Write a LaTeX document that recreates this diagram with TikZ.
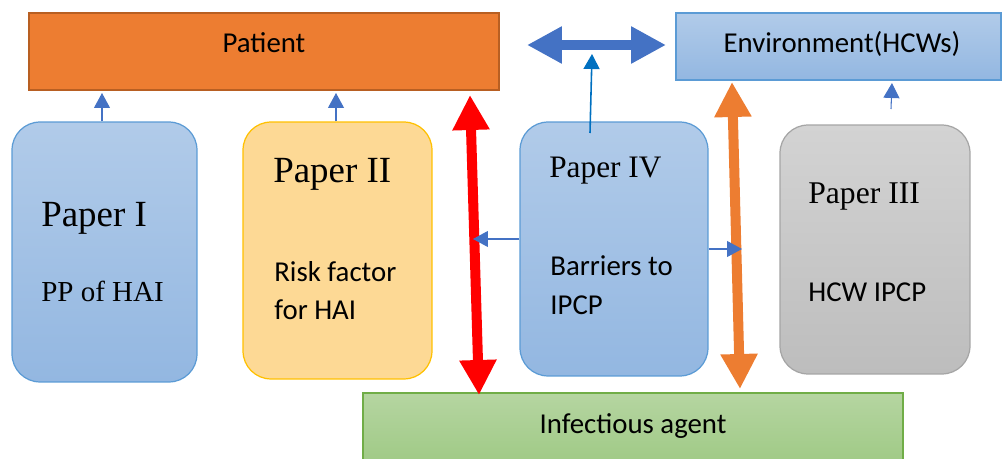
\documentclass[tikz,border=0pt]{standalone}
\usepackage{fontspec}
\setmainfont{Liberation Serif}
\newfontfamily\calib{Carlito}
\usetikzlibrary{arrows.meta}
\definecolor{orF}{HTML}{ED7D31}
\definecolor{orD}{HTML}{B85F22}
\definecolor{bluT}{HTML}{B1CBE9}
\definecolor{bluB}{HTML}{93B7E1}
\definecolor{bluD}{HTML}{5B9BD5}
\definecolor{yelF}{HTML}{FDD995}
\definecolor{yelD}{HTML}{FFC000}
\definecolor{gryT}{HTML}{D3D3D3}
\definecolor{gryB}{HTML}{BDBDBD}
\definecolor{gryD}{HTML}{A5A5A5}
\definecolor{grnT}{HTML}{B5D5A1}
\definecolor{grnB}{HTML}{A0CA86}
\definecolor{grnD}{HTML}{70AD47}
\definecolor{arrB}{HTML}{4472C4}
\definecolor{arrL}{HTML}{0070C0}
\definecolor{arrR}{HTML}{FF0000}
\begin{document}
\begin{tikzpicture}[x=0.02cm,y=-0.02cm,
  box/.style={inner sep=0pt, line width=0.7pt},
  paper/.style={box, rounded corners=0.56cm},
  bluebox/.style={draw=bluD, top color=bluT, bottom color=bluB},
  cal/.style={font=\calib\fontsize{16.4}{20}\selectfont, inner sep=0pt, anchor=base west},
  calc/.style={cal, anchor=base},
  ttl/.style={font=\fontsize{#1}{#1}\selectfont, inner sep=0pt, anchor=base west},
  thinarr/.style={draw=arrB, line width=0.6pt, -{Triangle[length=0.3cm,width=0.32cm]}},
  fat/.style={line width=0.2cm, {Triangle[length=0.7cm,width=0.7cm]}-{Triangle[length=0.7cm,width=0.7cm]}}
]
\useasboundingbox (0,0) rectangle (1002,459);

% top boxes
\node[box, draw=orD, fill=orF, line width=1.2pt, minimum width=9.4cm, minimum height=1.54cm] (patient) at (264,51.5) {};
\node[calc] (patientT) at (264,53) {Patient};
\node[box, bluebox, minimum width=6.5cm, minimum height=1.34cm] (env) at (838.5,46.5) {};
\node[calc] (envT) at (842,53) {Environment(HCWs)};

% bottom box
\node[box, draw=grnD, top color=grnT, bottom color=grnB, minimum width=10.8cm, minimum height=1.38cm] (inf) at (633,427.5) {};
\node[calc] (infT) at (633,434) {Infectious agent};

% paper boxes
\node[paper, bluebox, minimum width=3.7cm, minimum height=5.2cm] (p1) at (104.5,252) {};
\node[ttl=21] (p1T) at (41,227) {Paper I};
\node[ttl=16.5] (p1B) at (41,302) {PP of HAI};

\node[paper, draw=yelD, fill=yelF, minimum width=3.78cm, minimum height=5.14cm] (p2) at (337.5,250.5) {};
\node[ttl=21] (p2T) at (273,183) {Paper II};
\node[cal] (p2B1) at (274,282) {Risk factor};
\node[cal] (p2B2) at (274,320) {for HAI};

\node[paper, bluebox, minimum width=3.76cm, minimum height=5.08cm] (p4) at (614,249) {};
\node[ttl=17.8] (p4T) at (549,178) {Paper IV};
\node[cal] (p4B1) at (550,276) {Barriers to};
\node[cal] (p4B2) at (550,315) {IPCP};

\node[paper, draw=gryD, top color=gryT, bottom color=gryB, minimum width=3.8cm, minimum height=4.98cm] (p3) at (875,249.5) {};
\node[ttl=18] (p3T) at (808,204) {Paper III};
\node[cal] (p3B) at (808,302) {HCW IPCP};

% fat double arrows
\coordinate (b1) at (527,45);
\coordinate (b2) at (666,45);
\draw[fat, arrB] (b1) -- (b2);
\coordinate (r1) at (470,95);
\coordinate (r2) at (479,395);
\draw[fat, arrR] (r1) -- (r2);
\coordinate (o1) at (732,82);
\coordinate (o2) at (740,389);
\draw[fat, orF] (o1) -- (o2);

% thin arrows
\coordinate (a1) at (102,93);
\coordinate (a2) at (336,93);
\draw[thinarr] (p1.north -| a1) -- (a1);
\draw[thinarr] (p2.north -| a2) -- (a2);
\coordinate (a3s) at (891,109);
\coordinate (a3e) at (892,83);
\draw[thinarr] (a3s) -- (a3e);
\coordinate (a4s) at (590,133);
\coordinate (a4e) at (592,54);
\draw[thinarr, draw=arrL, line width=0.9pt] (a4s) -- (a4e);
\coordinate (a5) at (473,239);
\draw[thinarr] (a5 -| p4.west) -- (a5);
\coordinate (a6) at (742,249);
\draw[thinarr] (a6 -| p4.east) -- (a6);
\end{tikzpicture}
\end{document}
